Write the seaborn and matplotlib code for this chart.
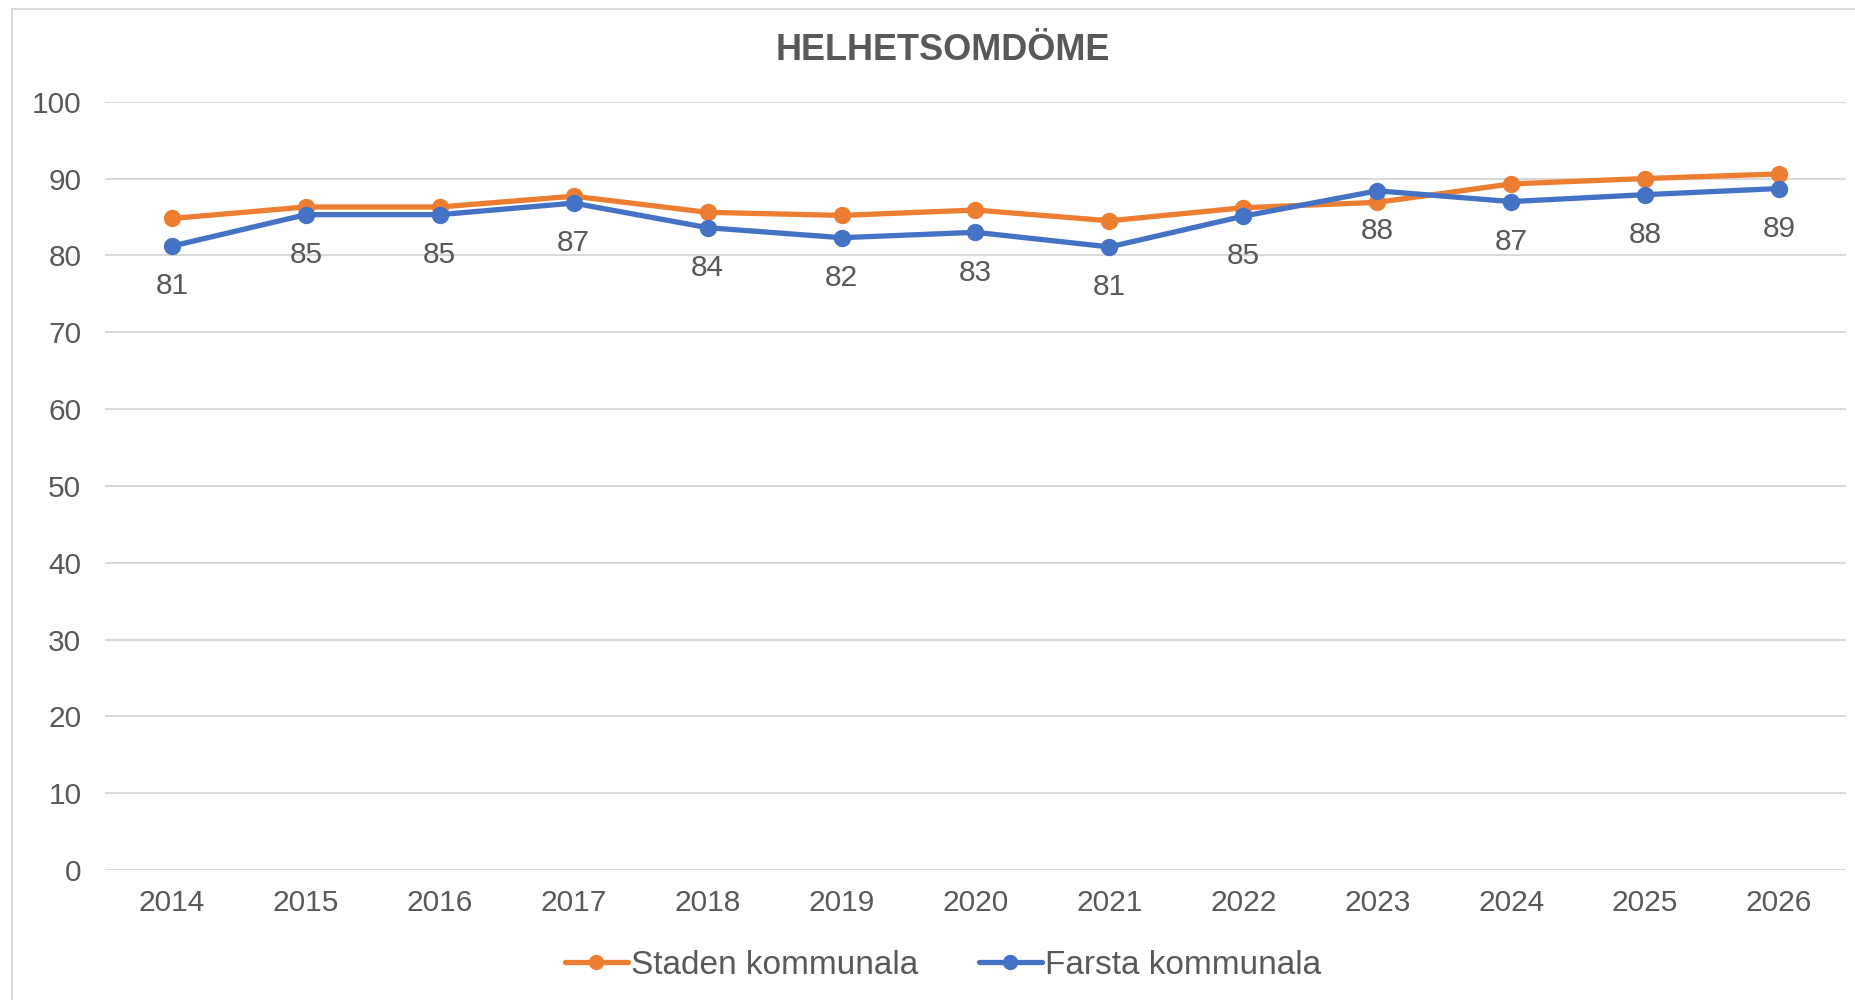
import numpy as np
import pandas as pd
import matplotlib
matplotlib.use("Agg")
import matplotlib.pyplot as plt
from matplotlib.lines import Line2D
import seaborn as sns

# Data
years = ["2014", "2015", "2016", "2017", "2018", "2019", "2020",
         "2021", "2022", "2023", "2024", "2025", "2026"]
staden = [84.8, 86.3, 86.3, 87.7, 85.6, 85.2, 85.9, 84.5, 86.2, 86.9, 89.3, 90.0, 90.6]
farsta = [81.2, 85.3, 85.3, 86.8, 83.6, 82.3, 83.0, 81.1, 85.1, 88.4, 87.0, 87.9, 88.7]
series_names = ["Staden kommunala", "Farsta kommunala"]
colors = ["#ED7D31", "#4472C4"]
yticks = [0, 10, 20, 30, 40, 50, 60, 70, 80, 90, 100]

TEXT = "#595959"
GRID = "#D9D9D9"

df = pd.DataFrame({
    "year": years * 2,
    "x": list(range(len(years))) * 2,
    "value": staden + farsta,
    "series": [series_names[0]] * len(years) + [series_names[1]] * len(years),
})

sns.set_theme(style="white")
plt.rcParams['font.family'] = ['Liberation Sans', 'DejaVu Sans']

fig = plt.figure(figsize=(18.55, 10), dpi=100)
ax = fig.add_axes([105 / 1855, 0.13, (1846 - 105) / 1855, 0.7683])

sns.lineplot(data=df, x="x", y="value", hue="series", palette=colors,
             hue_order=series_names, marker="o", markersize=12.5,
             markeredgewidth=0, linewidth=3.8, ax=ax, legend=False)

ax.set_xlim(-0.5, len(years) - 0.5)
ax.set_ylim(0, 100)
ax.set_yticks(yticks)
ax.set_xticks(range(len(years)))
ax.set_xticklabels(years)
ax.set_xlabel("")
ax.set_ylabel("")
ax.grid(axis="y", color=GRID, linewidth=1.5)
ax.grid(axis="x", visible=False)
ax.set_axisbelow(True)
for s in ax.spines.values():
    s.set_visible(False)
ax.tick_params(axis="both", length=0, labelsize=21.5, labelcolor=TEXT)
ax.tick_params(axis="x", pad=14)
ax.tick_params(axis="y", pad=17)

# data labels under the Farsta series
for i, v in enumerate(farsta):
    ax.annotate(f"{v:.0f}", (i, v), xytext=(0, -29), textcoords="offset points",
                ha="center", va="center", fontsize=21.5, color=TEXT)

fig.text(943 / 1855, 1 - 50 / 1000, "HELHETSOMDÖME", ha="center", va="center",
         fontsize=26, fontweight="bold", color=TEXT)

handles = [Line2D([], [], color=c, marker="o", markersize=11, markeredgewidth=0,
                  linewidth=3.8) for c in colors]
fig.legend(handles, series_names, loc="center", bbox_to_anchor=(943 / 1855, 1 - 965 / 1000),
           ncol=2, frameon=False, fontsize=24, labelcolor=TEXT, handlelength=1.9,
           handletextpad=0.1, columnspacing=1.8)

# outer chart frame
fig.add_artist(Line2D([12 / 1855, 12 / 1855], [0, 1 - 9 / 1000], color=GRID, linewidth=1.5))
fig.add_artist(Line2D([12 / 1855, 1], [1 - 9 / 1000, 1 - 9 / 1000], color=GRID, linewidth=1.5))

fig.savefig("out.png", dpi=100)
